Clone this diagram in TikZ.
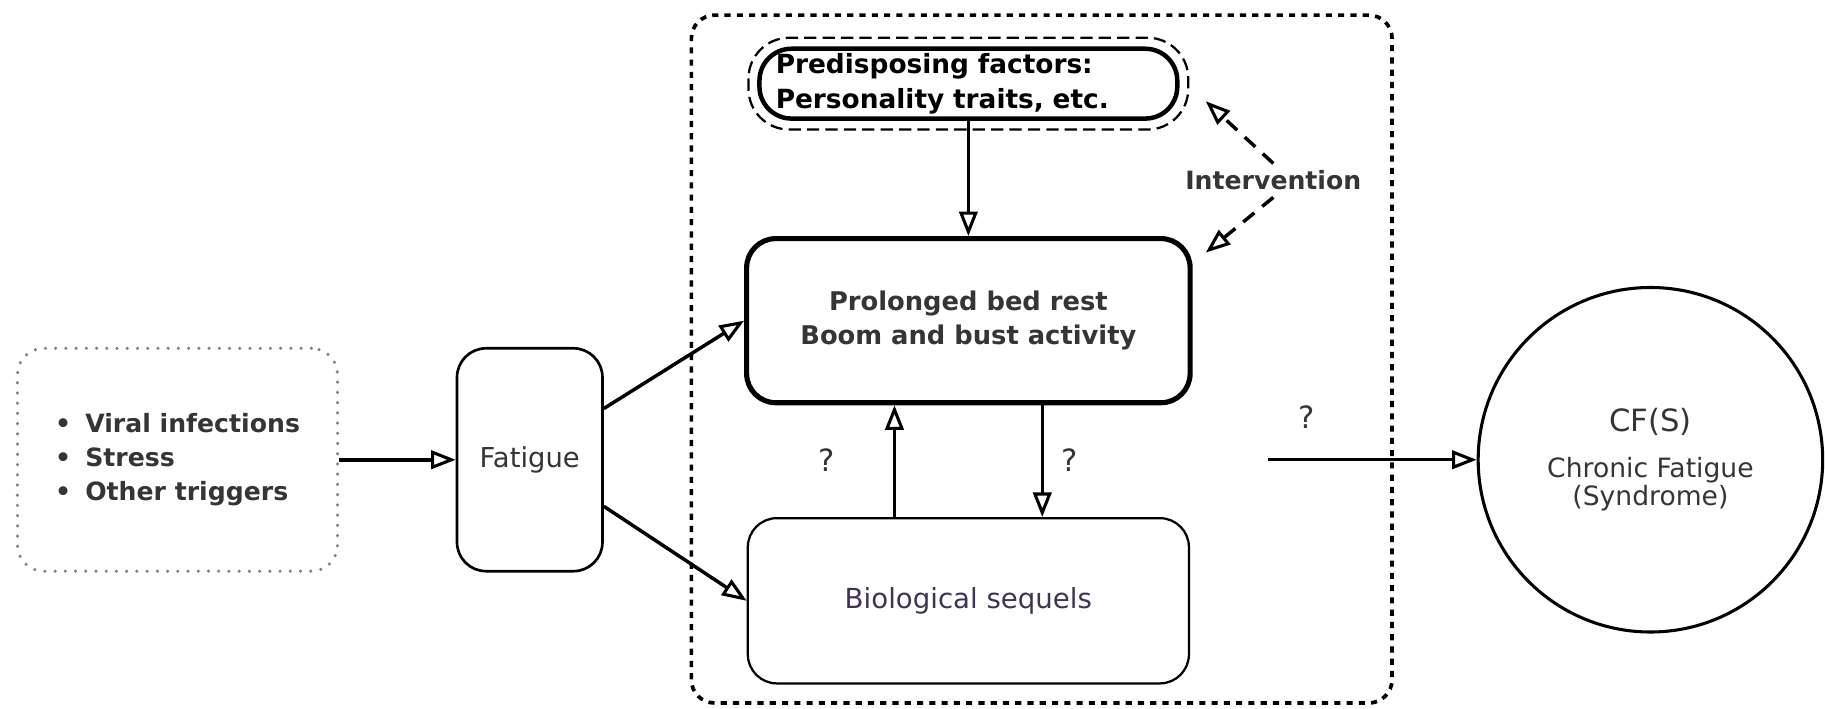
\documentclass[tikz,border=0pt]{standalone}
\usepackage{fontspec}
\setmainfont{DejaVu Sans}
\usetikzlibrary{positioning,arrows.meta,calc}
\definecolor{txtgray}{HTML}{353535}
\definecolor{biotxt}{HTML}{3F3550}

\begin{document}
\begin{tikzpicture}[
  box/.style={draw, rounded corners=0.5cm, line width=1.3pt, text=txtgray},
  arr/.style={line width=1.7pt, -{Triangle[open, length=12pt, width=9pt, line width=1.5pt, fill=white]}},
  dasharr/.style={arr, dash pattern=on 7pt off 5pt},
  qmark/.style={text=txtgray, font=\fontsize{15}{18}\selectfont}
]

  \useasboundingbox (0,0) rectangle (31.36,-12.18);

  % outer frame round the middle part
  \node[draw, line width=1.8pt, dash pattern=on 3pt off 3pt, rounded corners=0.4cm,
        minimum width=12.04cm, minimum height=11.82cm] (frame) at (17.9,-6.17) {};

  \node[draw=gray, line width=1.7pt, dash pattern=on 0pt off 5pt, line cap=round,
        rounded corners=0.45cm, minimum width=5.5cm, minimum height=3.83cm,
        align=left, text=txtgray, font=\bfseries\fontsize{12.3}{16.5}\selectfont]
        (trig) at (3.05,-7.9)
        {\makebox[0.52cm][l]{\textbullet}Viral infections\\
         \makebox[0.52cm][l]{\textbullet}Stress\\
         \makebox[0.52cm][l]{\textbullet}Other triggers};

  \node[box, minimum width=2.5cm, minimum height=3.83cm,
        font=\fontsize{13.4}{16}\selectfont] (fat) [right=2cm of trig] {Fatigue};

  \node[box, line width=2.5pt, minimum width=7.62cm, minimum height=2.82cm, align=center,
        font=\bfseries\fontsize{12.6}{16.5}\selectfont] (bed) at (16.64,-5.51)
        {Prolonged bed rest\\Boom and bust activity};

  \node[box, line width=2.2pt, rounded corners=0.55cm, text=black, minimum height=1.2cm,
        text width=6.62cm, inner xsep=0.28cm, inner ysep=0.5pt, align=left,
        font=\bfseries\fontsize{12.9}{17}\selectfont] (pred) [above=1.98cm of bed]
        {Predisposing factors:\\Personality traits, etc.};
  \draw[line width=1.1pt, dash pattern=on 6pt off 3pt, rounded corners=0.7cm]
        ([shift={(-0.15,0.15)}]pred.north west) rectangle ([shift={(0.15,-0.15)}]pred.south east);

  \node[box, line width=1.1pt, minimum width=7.58cm, minimum height=2.84cm, text=biotxt,
        font=\fontsize{13.5}{16}\selectfont] (bio) [below=1.92cm of bed] {Biological sequels};

  \node[draw, circle, line width=1.5pt, minimum size=5.92cm, align=center, text=txtgray,
        font=\fontsize{13}{13.5}\selectfont] (circ) at (28.36,-7.9)
        {{\fontsize{15}{18}\selectfont CF(S)}\\[9pt]Chronic Fatigue\\(Syndrome)};

  \node[text=txtgray, font=\bfseries\fontsize{12.3}{15}\selectfont] (interv) at (21.88,-3.1) {Intervention};
  \coordinate (tipA) at (20.72,-1.74);
  \coordinate (tipB) at (20.72,-4.34);

  \node[qmark] (q1) at (14.2,-7.9) {?};
  \node[qmark] (q2) at (18.38,-7.9) {?};
  \node[qmark] (q3) at (22.46,-7.16) {?};
  \coordinate (qstart) at (21.78,-7.9);

  \draw[arr, line width=2.1pt] (trig) -- (fat);
  \draw[arr] ([yshift=0.88cm]fat.east) -- (bed.west);
  \draw[arr] ([yshift=-0.8cm]fat.east) -- (bio.west);
  \draw[arr, line width=1.3pt] (pred) -- (bed);
  \draw[arr] ([xshift=-1.27cm]bio.north) -- ([xshift=-1.27cm]bed.south);
  \draw[arr] ([xshift=1.27cm]bed.south) -- ([xshift=1.27cm]bio.north);
  \draw[arr] (qstart) -- (circ.west);

  \draw[dasharr] (interv.north) -- (tipA);
  \draw[dasharr] (interv.south) -- (tipB);

\end{tikzpicture}
\end{document}
